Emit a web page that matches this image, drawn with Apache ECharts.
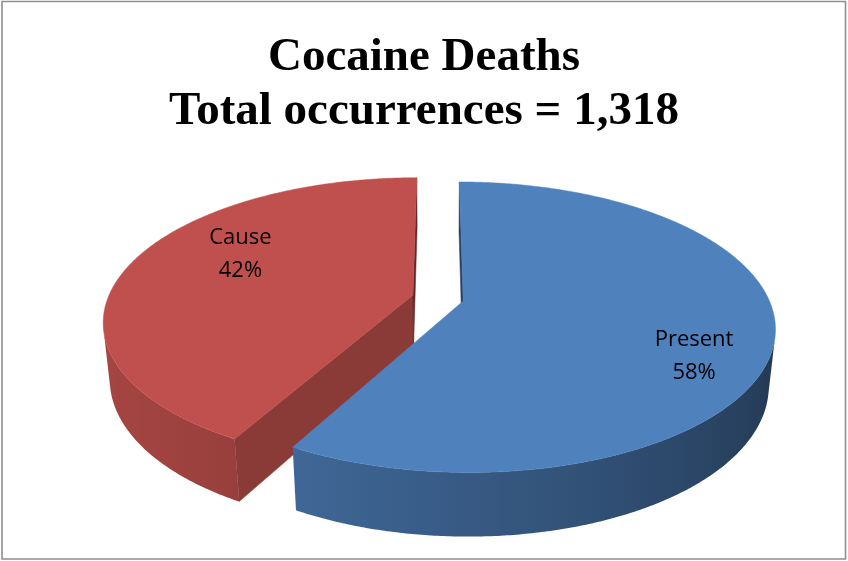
<!DOCTYPE html>
<html>
<head>
<meta charset="utf-8">
<script src="https://cdn.jsdelivr.net/npm/echarts@6.0.0/dist/echarts.min.js"></script>
<style>
  html, body { margin: 0; padding: 0; background: #ffffff; }
  #chart { width: 848px; height: 561px; }
</style>
</head>
<body>
<div id="chart"></div>
<script>
// ---- data ----
const categories = ['Present', 'Cause'];
const values = [58, 42];              // percent of occurrences
const titleLines = ['Cocaine Deaths', 'Total occurrences = 1,318'];

// ---- styling / 3D view ----
const colors = ['#4F81BD', '#C0504D'];
const VIEW = {
  cx: 438, cy: 298,       // screen position of pie centre
  F: 1507,                // focal scale
  d: 4.94,                // camera distance (radius units)
  phi: 27.2 * Math.PI / 180, // elevation
  h: 0.21,                // thickness (radius units)
  explode: 0.085
};
const labelR = 0.68;
const labelNudge = [[22, 31], [21, -18]];

const sinP = Math.sin(VIEW.phi), cosP = Math.cos(VIEW.phi);
const CAM = [0, VIEW.d * sinP, VIEW.d * cosP];

function project(x, y, z) {
  const depth = VIEW.d - y * sinP - z * cosP;
  const u = x * VIEW.F / depth;
  const v = (y * cosP - z * sinP) * VIEW.F / depth;
  return [VIEW.cx + u, VIEW.cy - v];
}
function shade(hex, b) {
  const n = parseInt(hex.slice(1), 16);
  const r = Math.round(((n >> 16) & 255) * b);
  const g = Math.round(((n >> 8) & 255) * b);
  const bl = Math.round((n & 255) * b);
  return 'rgb(' + r + ',' + g + ',' + bl + ')';
}
function wallBrightness(psi) {
  return 0.64 + 0.22 * Math.cos(psi - 255 * Math.PI / 180);
}
function facing(n, p) {
  return n[0] * (CAM[0] - p[0]) + n[1] * (CAM[1] - p[1]) + n[2] * (CAM[2] - p[2]) > 0;
}

const total = values.reduce((a, b) => a + b, 0);

function renderItem(params, api) {
  const idx = api.value(0);
  const val = api.value(1);
  let before = 0;
  for (let k = 0; k < idx; k++) before += values[k];
  const t0 = before / total * Math.PI * 2;
  const t1 = (before + val) / total * Math.PI * 2;
  const tm = (t0 + t1) / 2;
  const ox = VIEW.explode * Math.sin(tm);
  const oz = -VIEW.explode * Math.cos(tm);
  const h = VIEW.h;
  const base = colors[idx];
  const rank = oz > 0 ? 20 : 0;   // front slice drawn over back slice

  const rim = (t, y) => [ox + Math.sin(t), y, oz - Math.cos(t)];
  const P = (p) => project(p[0], p[1], p[2]);
  const children = [];

  // cut faces
  const cutFace = (t, psi) => {
    const n = [Math.sin(psi), 0, -Math.cos(psi)];
    const mid = [ox + 0.5 * Math.sin(t), -h / 2, oz - 0.5 * Math.cos(t)];
    if (!facing(n, mid)) return;
    const pts = [P([ox, 0, oz]), P(rim(t, 0)), P(rim(t, -h)), P([ox, -h, oz])];
    const b = (-Math.cos(psi) > 0.1) ? 0.72 : 0.5;
    const c = shade(base, b);
    children.push({ type: 'polygon', shape: { points: pts }, z2: rank + 1,
      style: { fill: c, stroke: c, lineWidth: 0.5 } });
  };
  cutFace(t0, t0 - Math.PI / 2);
  cutFace(t1, t1 + Math.PI / 2);

  // outer wall: contiguous visible runs, one polygon each with a gradient
  const steps = Math.max(8, Math.ceil((t1 - t0) / (Math.PI / 360)));
  const angleAt = (s) => t0 + (t1 - t0) * s / steps;
  const vis = [];
  for (let s = 0; s < steps; s++) {
    const c = (angleAt(s) + angleAt(s + 1)) / 2;
    vis.push(facing([Math.sin(c), 0, -Math.cos(c)], rim(c, -h / 2)));
  }
  let s = 0;
  while (s < steps) {
    if (!vis[s]) { s++; continue; }
    let e = s;
    while (e < steps && vis[e]) e++;
    const a = angleAt(s), b = angleAt(e);
    const topPts = [], botPts = [];
    for (let k = s; k <= e; k++) {
      topPts.push(P(rim(angleAt(k), 0)));
      botPts.push(P(rim(angleAt(k), -h)));
    }
    const pts = topPts.concat(botPts.reverse());
    let xmin = Infinity, xmax = -Infinity;
    pts.forEach(p => { xmin = Math.min(xmin, p[0]); xmax = Math.max(xmax, p[0]); });
    const stops = [];
    const N = 24;
    for (let k = 0; k <= N; k++) {
      const t = a + (b - a) * k / N;
      const px = P(rim(t, -h / 2))[0];
      stops.push({ offset: Math.min(1, Math.max(0, (px - xmin) / (xmax - xmin))),
                   color: shade(base, wallBrightness(t)) });
    }
    stops.sort((p, q) => p.offset - q.offset);
    children.push({ type: 'polygon', z2: rank + 2,
      shape: { points: pts },
      style: { fill: { type: 'linear', x: 0, y: 0, x2: 1, y2: 0, colorStops: stops, global: false } } });
    s = e;
  }

  // top face
  const top = [P([ox, 0, oz])];
  for (let k = 0; k <= steps; k++) top.push(P(rim(angleAt(k), 0)));
  children.push({ type: 'polygon', shape: { points: top }, z2: rank + 5,
    style: { fill: base, stroke: base, lineWidth: 0.5 } });

  // label
  const lp = project(ox + labelR * Math.sin(tm), 0, oz - labelR * Math.cos(tm));
  const pct = Math.round(val / total * 100);
  children.push({ type: 'text', z2: 100,
    style: {
      text: categories[idx] + '\n' + pct + '%',
      x: lp[0] + labelNudge[idx][0], y: lp[1] + labelNudge[idx][1],
      fill: '#000000', fontSize: 22, fontFamily: 'Open Sans',
      lineHeight: 33, align: 'center', verticalAlign: 'middle',
      textAlign: 'center', textVerticalAlign: 'middle'
    } });

  return { type: 'group', children: children };
}

const chart = echarts.init(document.getElementById('chart'), null, { renderer: 'canvas' });
chart.setOption({
  backgroundColor: '#ffffff',
  animation: false,
  title: {
    text: titleLines.join('\n'),
    left: 'center',
    top: 26,
    textStyle: {
      fontFamily: 'Liberation Serif',
      fontWeight: 'bold',
      fontSize: 47,
      lineHeight: 54,
      color: '#000000'
    }
  },
  graphic: [{
    type: 'rect',
    shape: { x: 2, y: 1.5, width: 843.5, height: 557.5 },
    style: { fill: 'none', stroke: '#8e8e8e', lineWidth: 1.6 },
    silent: true
  }],
  series: [{
    type: 'custom',
    coordinateSystem: 'none',
    renderItem: renderItem,
    data: values.map((v, i) => [i, v])
  }]
});
</script>
</body>
</html>
